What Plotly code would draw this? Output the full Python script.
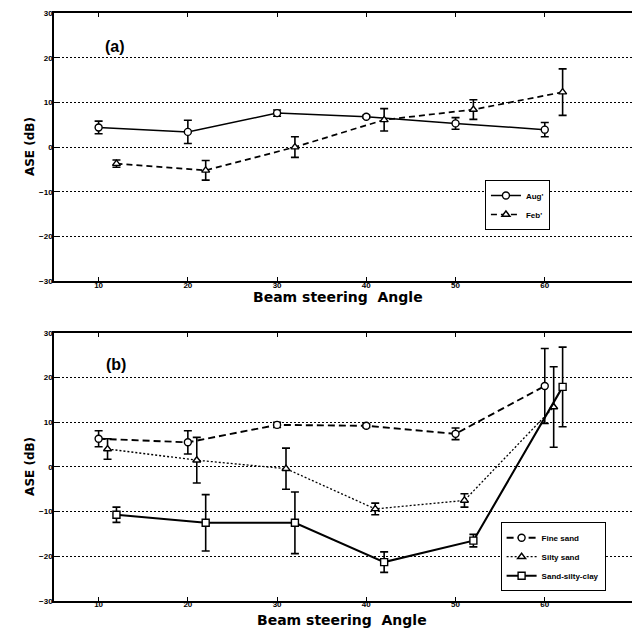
import plotly.graph_objects as go

# ---- Panel (a) data ----
aug_x = [10, 20, 30, 40, 50, 60]
aug_y = [4.4, 3.4, 7.6, 6.8, 5.3, 3.9]
aug_err = [1.4, 2.6, 0.7, 0.3, 1.3, 1.6]

feb_x = [12, 22, 32, 42, 52, 62]
feb_y = [-3.7, -5.2, 0.0, 6.1, 8.4, 12.3]
feb_err = [0.8, 2.2, 2.3, 2.5, 2.2, 5.2]

# ---- Panel (b) data ----
fine_x = [10, 20, 30, 40, 50, 60]
fine_y = [6.3, 5.5, 9.4, 9.2, 7.4, 18.1]
fine_err = [1.8, 2.6, 0.6, 0.4, 1.3, 8.4]

silty_x = [11, 21, 31, 41, 51, 61]
silty_y = [4.0, 1.5, -0.4, -9.4, -7.5, 13.4]
silty_err = [2.3, 5.1, 4.6, 1.3, 1.5, 9.0]

clay_x = [12, 22, 32, 42, 52, 62]
clay_y = [-10.7, -12.5, -12.5, -21.3, -16.5, 17.9]
clay_err = [1.7, 6.3, 6.9, 2.3, 1.4, 8.9]

x_ticks = [10, 20, 30, 40, 50, 60]
y_ticks = [-30, -20, -10, 0, 10, 20, 30]

FONT = "Liberation Sans"
TFONT = "DejaVu Sans"

def series(x, y, err, name, dash, symbol, width, xa, ya, legend):
    return go.Scatter(
        x=x, y=y, name=name, mode="lines+markers",
        line=dict(color="black", width=width, dash=dash),
        marker=dict(symbol=symbol, size=7, color="white",
                    line=dict(color="black", width=1.4)),
        error_y=dict(type="data", array=err, visible=True,
                     color="black", thickness=1.6, width=4),
        xaxis=xa, yaxis=ya, legend=legend,
    )

fig = go.Figure()
fig.add_trace(series(aug_x, aug_y, aug_err, "Aug'", "solid", "circle", 1.5, "x", "y", "legend"))
fig.add_trace(series(feb_x, feb_y, feb_err, "Feb'", "6px,4px", "triangle-up", 1.7, "x", "y", "legend"))
fig.add_trace(series(fine_x, fine_y, fine_err, "Fine sand", "7px,4px", "circle", 1.9, "x2", "y2", "legend2"))
fig.add_trace(series(silty_x, silty_y, silty_err, "Silty sand", "2px,2px", "triangle-up", 1.3, "x2", "y2", "legend2"))
fig.add_trace(series(clay_x, clay_y, clay_err, "Sand-silty-clay", "solid", "square", 2.1, "x2", "y2", "legend2"))

tickfont = dict(family=FONT, size=8, color="black", weight="bold")

def xaxis(anchor):
    return dict(
        range=[5, 70], tickvals=x_ticks, ticks="inside", ticklen=4,
        tickcolor="black", tickwidth=1, showgrid=False, zeroline=False,
        showline=True, linecolor="black", linewidth=1.6, mirror="ticks",
        tickfont=tickfont, anchor=anchor, ticklabelstandoff=-5,
    )

def yaxis(domain, anchor):
    return dict(
        range=[-30, 30], tickvals=y_ticks, ticks="inside", ticklen=4,
        tickcolor="black", tickwidth=1, showgrid=True, gridcolor="black",
        griddash="2px,2px", gridwidth=1, zeroline=False,
        showline=True, linecolor="black", linewidth=1.6, mirror="ticks",
        tickfont=tickfont, domain=domain, anchor=anchor, ticklabelstandoff=-2,
    )

legfont = dict(family=FONT, size=8, color="black", weight="bold")

xt_font = dict(family=TFONT, size=14, color="black", weight="bold")
yt_font = dict(family=TFONT, size=12, color="black", weight="bold")
lab_font = dict(family=FONT, size=16, color="black", weight="bold")

# The page body adds an 8px offset, so the figure is sized to sit inside the 640x628 window.
fig.update_layout(
    width=632, height=620,
    margin=dict(l=46, r=6, t=1, b=27),
    paper_bgcolor="white", plot_bgcolor="white",
    showlegend=True,
    xaxis=xaxis("y"),
    yaxis=yaxis([0.5439, 1.0], "x"),
    xaxis2=xaxis("y2"),
    yaxis2=yaxis([0.0, 0.4561], "x2"),
    legend=dict(x=0.743, y=0.716, xanchor="left", yanchor="top",
                bordercolor="black", borderwidth=1, bgcolor="white",
                font=legfont, itemwidth=30, tracegroupgap=0),
    legend2=dict(x=0.77, y=0.134, xanchor="left", yanchor="top",
                 bordercolor="black", borderwidth=1, bgcolor="white",
                 font=legfont, itemwidth=30, tracegroupgap=0),
    annotations=[
        dict(text="(a)", xref="x", yref="y", x=11.8, y=22.4, showarrow=False, font=lab_font),
        dict(text="(b)", xref="x2", yref="y2", x=12.0, y=22.9, showarrow=False, font=lab_font),
        dict(text="Beam steering  Angle", xref="paper", yref="paper", x=0.49, y=0.5439,
             yshift=-16, yanchor="middle", showarrow=False, font=xt_font),
        dict(text="Beam steering  Angle", xref="paper", yref="paper", x=0.497, y=0.0,
             yshift=-19, yanchor="middle", showarrow=False, font=xt_font),
        dict(text="ASE (dB)", xref="paper", yref="y", x=0, xshift=-33, y=0,
             textangle=-90, showarrow=False, font=yt_font),
        dict(text="ASE (dB)", xref="paper", yref="y2", x=0, xshift=-33, y=0,
             textangle=-90, showarrow=False, font=yt_font),
    ],
)

fig.write_html("out.html")
